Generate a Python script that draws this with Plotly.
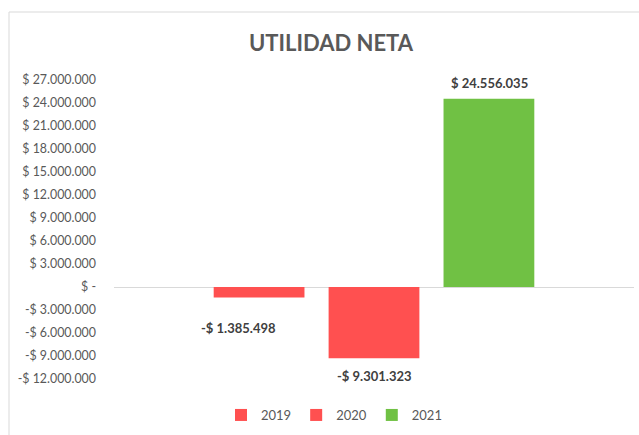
import plotly.graph_objects as go

# ---- data ----
years = ["2019", "2020", "2021"]
values = [-1385498, -9301323, 24556035]
colors = ["#FF5050", "#FF5050", "#70C144"]
tick_vals = [27e6, 24e6, 21e6, 18e6, 15e6, 12e6, 9e6, 6e6, 3e6, 0, -3e6, -6e6, -9e6, -12e6]
tick_text = ["$ 27.000.000", "$ 24.000.000", "$ 21.000.000", "$ 18.000.000", "$ 15.000.000",
             "$ 12.000.000", "$ 9.000.000", "$ 6.000.000", "$ 3.000.000", "$ -",
             "-$ 3.000.000", "-$ 6.000.000", "-$ 9.000.000", "-$ 12.000.000"]
category = ["UTILIDAD NETA"]


def fmt(v):
    s = f"{abs(v):,}".replace(",", ".")
    return ("-$ " if v < 0 else "$ ") + s


FONT = "Lato, 'Open Sans', sans-serif"
GRAY = "#595959"

fig = go.Figure()
for y, v, c in zip(years, values, colors):
    fig.add_trace(go.Bar(x=category, y=[v], name=y, marker=dict(color=c, line=dict(width=0)),
                         offsetgroup=y))

# data labels (label offsets are style)
label_shift = {"2019": (-20, -30), "2020": (0, -18), "2021": (0, 16)}
for i, (y, v) in enumerate(zip(years, values)):
    dx, dy = label_shift[y]
    fig.add_annotation(x=(i - 1) * 0.2212, y=v, xref="x", yref="y", text="<b>" + fmt(v) + "</b>",
                       showarrow=False, xshift=dx, yshift=dy,
                       font=dict(family=FONT, size=13, color="#404040"))

W, H = 639, 435
L, R, T, B = 114, 5, 80, 56
pw, ph = W - L - R, H - T - B


def px_x(p):
    return (p - L) / pw


def px_y(p):
    return (H - B - p) / ph


fig.add_shape(type="rect", xref="paper", yref="paper",
              x0=px_x(9), x1=px_x(660), y0=px_y(460), y1=px_y(12),
              line=dict(color="#D9D9D9", width=1), fillcolor="rgba(0,0,0,0)", layer="below")

fig.update_layout(
    width=W, height=H,
    margin=dict(l=L, r=R, t=T, b=B, autoexpand=False),
    paper_bgcolor="white", plot_bgcolor="white",
    barmode="group", bargap=0.337, bargroupgap=0.21,
    title=dict(text="<b>UTILIDAD NETA</b>", x=331 / W, xref="container", xanchor="center",
               y=1 - 43 / H, yref="container", yanchor="middle",
               font=dict(family=FONT, size=22, color=GRAY)),
    font=dict(family=FONT, size=13, color=GRAY),
    showlegend=True,
    legend=dict(orientation="h", x=334 / W, xref="container", xanchor="center",
                y=1 - 415 / H, yref="container", yanchor="middle",
                font=dict(family=FONT, size=13, color=GRAY), traceorder="normal",
                itemwidth=30, bgcolor="rgba(0,0,0,0)"),
    xaxis=dict(showticklabels=False, showgrid=False, zeroline=False, showline=False,
               range=[-0.5, 0.5], fixedrange=True, automargin=False),
    yaxis=dict(range=[-12e6, 27e6], tickvals=tick_vals, ticktext=tick_text, showgrid=False,
               zeroline=True, zerolinecolor="#D9D9D9", zerolinewidth=1, showline=False,
               ticks="", ticklabelstandoff=17, automargin=False,
               tickfont=dict(family=FONT, size=12.4, color=GRAY)),
)

fig.write_html("out.html", config={"displayModeBar": False},
               post_script="document.body.style.margin='0';document.body.style.overflow='hidden';")
